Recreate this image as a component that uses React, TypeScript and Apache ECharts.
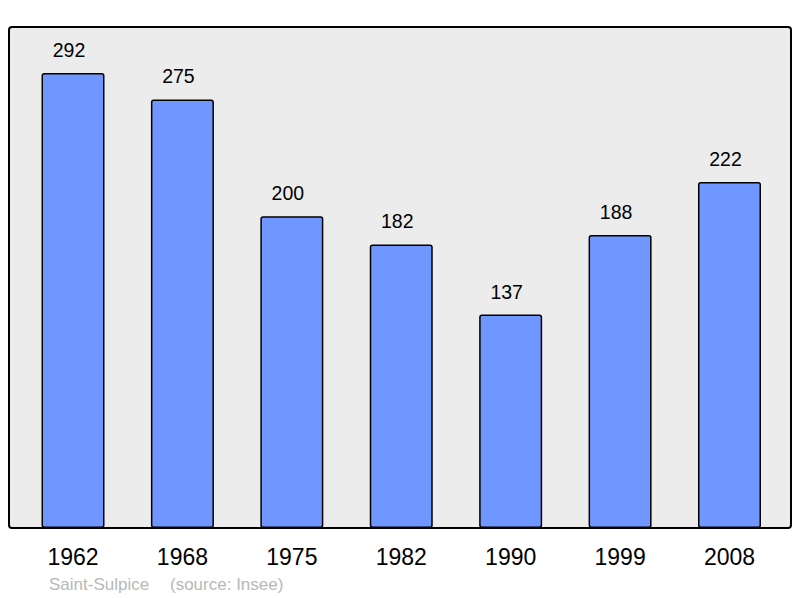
import React, { useEffect, useRef } from "react";
import * as echarts from "echarts";

const years = ["1962", "1968", "1975", "1982", "1990", "1999", "2008"];
const population = [292, 275, 200, 182, 137, 188, 222];
const placeName = "Saint-Sulpice";
const sourceText = "(source: Insee)";

export default function App() {
  const ref = useRef<HTMLDivElement>(null);
  useEffect(() => {
    const chart = echarts.init(ref.current!, null, { renderer: "svg" });
    chart.setOption({
      animation: false,
      textStyle: { fontFamily: "Liberation Sans, Arial, sans-serif" },
      graphic: [
        {
          type: "rect",
          z: 0,
          shape: { x: 9, y: 27, width: 782, height: 501, r: 3 },
          style: { fill: "#ececec", stroke: "#000", lineWidth: 2 },
        },
        {
          type: "text",
          z: 5,
          left: 49,
          top: 576,
          style: { text: placeName, fill: "#b8b8b8", fontSize: 17, fontFamily: "Liberation Sans, Arial, sans-serif" },
        },
        {
          type: "text",
          z: 5,
          left: 170,
          top: 576,
          style: { text: sourceText, fill: "#b8b8b8", fontSize: 17, fontFamily: "Liberation Sans, Arial, sans-serif" },
        },
      ],
      grid: { left: 18.3, right: 15.8, top: 27, bottom: 70, containLabel: false },
      xAxis: {
        type: "category",
        data: years,
        axisLine: { show: false },
        axisTick: { show: false },
        axisLabel: { color: "#000", fontSize: 23, margin: 17 },
      },
      yAxis: {
        type: "value",
        min: 0,
        max: 321.5,
        show: false,
        splitLine: { show: false },
      },
      series: [
        {
          type: "bar",
          z: 2,
          data: population,
          barWidth: 63,
          itemStyle: { color: "#7096ff", borderColor: "#000", borderWidth: 1.5, borderRadius: 2 },
          label: {
            show: true,
            position: "top",
            distance: 13,
            offset: [-4, 0],
            color: "#000",
            fontSize: 19.5,
          },
        },
      ],
    });
    return () => chart.dispose();
  }, []);
  return <div ref={ref} style={{ width: 800, height: 598, position: "absolute", left: 0, top: 0 }} />;
}
